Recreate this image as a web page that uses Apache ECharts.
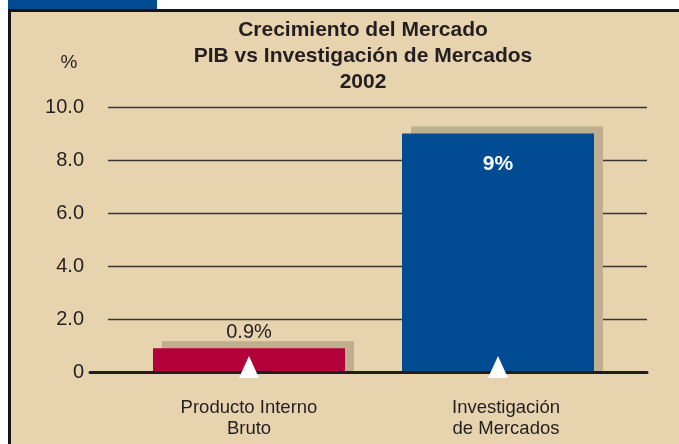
<!DOCTYPE html>
<html>
<head>
<meta charset="utf-8">
<script src="https://cdn.jsdelivr.net/npm/echarts@6/dist/echarts.min.js"></script>
<style>
  html, body { margin: 0; padding: 0; background: #ffffff; }
  #wrap { position: relative; width: 679px; height: 444px; overflow: hidden; background: #ffffff; }
  #tab { position: absolute; left: 8px; top: 0; width: 149px; height: 9px; background: #004B91; }
  #frame { position: absolute; left: 8px; top: 9px; right: 0; bottom: 0; background: #E8D3AF;
           border-left: 3px solid #151515; border-top: 3px solid #151515; }
  #chart { position: absolute; left: 0; top: 0; width: 679px; height: 444px; }
</style>
</head>
<body>
<div id="wrap">
  <div id="tab"></div>
  <div id="frame"></div>
  <div id="chart"></div>
</div>
<script>
// ---- data ----
const categories = ['Producto Interno\nBruto', 'Investigación\nde Mercados'];
const values = [0.9, 9];
const valueLabels = ['0.9%', '9%'];
const barColors = ['#B1003A', '#004B91'];
const yTicks = [0, 2, 4, 6, 8, 10];
const titleLines = ['Crecimiento del Mercado', 'PIB vs Investigación de Mercados', '2002'];
const unitLabel = '%';

const FONT = '"Liberation Sans", Arial, Helvetica, sans-serif';
const chart = echarts.init(document.getElementById('chart'), null, { renderer: 'canvas' });

const yMin = yTicks[0], yMax = yTicks[yTicks.length - 1], yInt = yTicks[1] - yTicks[0];
const TOP = 107, BOTTOM = 72;
const BAR_W = 192, SH_DX = 9, SH_DY = 7;

const option = {
  backgroundColor: 'transparent',
  animation: false,
  textStyle: { fontFamily: FONT },
  title: [
    {
      text: titleLines.join('\n'),
      left: 358, top: 12, textAlign: 'center',
      textStyle: { fontFamily: FONT, fontSize: 21, fontWeight: 'bold', color: '#231F20', lineHeight: 26 }
    },
    {
      text: unitLabel,
      left: 64, top: 48, textAlign: 'center',
      textStyle: { fontFamily: FONT, fontSize: 19, fontWeight: 'normal', color: '#231F20' }
    }
  ],
  grid: [
    { left: 108, right: 32, top: TOP, bottom: BOTTOM },      // gridlines + y labels
    { left: 90, right: 32, top: TOP, bottom: BOTTOM },       // baseline
    { left: 124.5, right: 56.5, top: TOP, bottom: BOTTOM }   // bars
  ],
  xAxis: [
    { gridIndex: 0, type: 'category', data: categories, show: false },
    { gridIndex: 1, type: 'category', data: categories, z: 10,
      axisLine: { show: true, lineStyle: { color: '#1E1E1E', width: 3 } },
      axisTick: { show: false }, axisLabel: { show: false }, splitLine: { show: false } },
    { gridIndex: 2, type: 'category',
      data: categories.map((c, i) => ({ value: c, textStyle: { padding: i === 1 ? [0, 0, 0, 16] : 0 } })),
      axisLine: { show: false }, axisTick: { show: false },
      axisLabel: { margin: 25, fontFamily: FONT, fontSize: 18.5, color: '#231F20', lineHeight: 21 } }
  ],
  yAxis: [
    { gridIndex: 0, type: 'value', min: yMin, max: yMax, interval: yInt,
      axisLine: { show: false }, axisTick: { show: false },
      axisLabel: { margin: 24, fontFamily: FONT, fontSize: 20, color: '#231F20',
                   formatter: v => v === 0 ? '0' : v.toFixed(1) },
      splitLine: { show: true, lineStyle: { color: '#3A3530', width: 1.3 } } },
    { gridIndex: 1, type: 'value', min: yMin, max: yMax, interval: yInt, show: false, splitLine: { show: false } },
    { gridIndex: 2, type: 'value', min: yMin, max: yMax, interval: yInt, show: false, splitLine: { show: false } }
  ],
  series: [
    {
      // shadow block behind each bar, positioned through the axis scales
      type: 'custom', xAxisIndex: 2, yAxisIndex: 2, z: 2, silent: true,
      data: values.map((v, i) => [i, v]),
      renderItem: function (params, api) {
        const top = api.coord([api.value(0), api.value(1)]);
        const base = api.coord([api.value(0), 0]);
        return {
          type: 'rect',
          shape: { x: top[0] - BAR_W / 2 + SH_DX, y: top[1] - SH_DY, width: BAR_W, height: base[1] - top[1] + SH_DY - 1 },
          style: { fill: '#BFAF8F' }
        };
      }
    },
    {
      type: 'bar', xAxisIndex: 2, yAxisIndex: 2, barWidth: BAR_W, z: 3,
      data: values.map((v, i) => ({
        value: v,
        itemStyle: { color: barColors[i] },
        label: i === 0
          ? { show: true, position: 'top', distance: 6, formatter: valueLabels[i],
              fontFamily: FONT, fontSize: 20, color: '#231F20' }
          : { show: true, position: 'insideTop', distance: 20, formatter: valueLabels[i],
              fontFamily: FONT, fontSize: 21, fontWeight: 'bold', color: '#FFFFFF' }
      }))
    },
    {
      type: 'scatter', xAxisIndex: 2, yAxisIndex: 2, z: 20,
      symbol: 'triangle', symbolSize: [20, 22], symbolOffset: [0, -5],
      itemStyle: { color: '#FFFFFF', opacity: 1 },
      data: values.map(() => 0),
      silent: true
    }
  ]
};
chart.setOption(option);
</script>
</body>
</html>
